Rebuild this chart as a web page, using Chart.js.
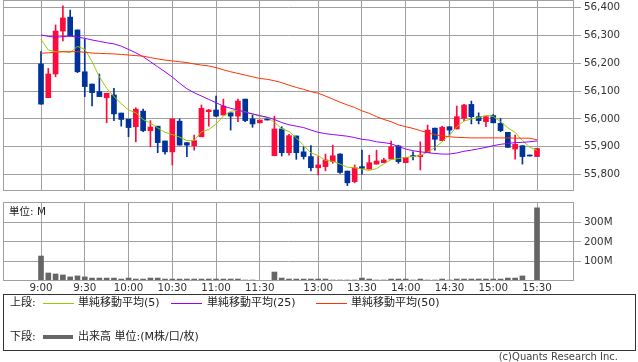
<!DOCTYPE html>
<html>
<head>
<meta charset="utf-8">
<script src="https://cdn.jsdelivr.net/npm/chart.js@4.4.1/dist/chart.umd.min.js"></script>
<style>
  body { margin: 0; background: #fff; width: 638px; height: 362px; overflow: hidden; position: relative;
         font-family: "DejaVu Sans", "Noto Sans CJK JP", sans-serif; color: #222; }
  canvas { position: absolute; left: 0; }
  #price { top: 0; }
  #volume { top: 195px; }
  .txt { position: absolute; white-space: nowrap; font-size: 11px; line-height: 14px; }
  .ln { position: absolute; height: 1px; }
  #legend { position: absolute; left: 3px; top: 294px; width: 631px; height: 55px; border: 1px solid #333; }
</style>
</head>
<body>
<canvas id="price" width="638" height="191"></canvas>
<canvas id="volume" width="638" height="100"></canvas>
<div class="txt" style="left:9px;top:204px;font-size:10.5px">単位: M</div>

<div id="legend"></div>
<div class="txt" style="left:10px;top:296px">上段:</div>
<div class="ln" style="left:43px;top:303px;width:31px;background:#99cc00"></div>
<div class="txt" style="left:78px;top:296px">単純移動平均(5)</div>
<div class="ln" style="left:171px;top:303px;width:31px;background:#9900ff"></div>
<div class="txt" style="left:207px;top:296px">単純移動平均(25)</div>
<div class="ln" style="left:316px;top:303px;width:31px;background:#ff3300"></div>
<div class="txt" style="left:351px;top:296px">単純移動平均(50)</div>
<div class="txt" style="left:10px;top:330px">下段:</div>
<div class="ln" style="left:43px;top:335px;width:30px;height:4px;background:#666"></div>
<div class="txt" style="left:78px;top:330px">出来高 単位:(M株/口/枚)</div>
<div class="txt" style="right:20px;top:350px;font-size:10px;color:#444">(c)Quants Research Inc.</div>

<script>
// 5分足 (9:00 - 15:30)
const times = [
  '9:00','9:05','9:10','9:15','9:20','9:25','9:30','9:35','9:40','9:45','9:50','9:55',
  '10:00','10:05','10:10','10:15','10:20','10:25','10:30','10:35','10:40','10:45','10:50','10:55',
  '11:00','11:05','11:10','11:15','11:20','11:25','11:30',
  '12:25',
  '12:30','12:35','12:40','12:45','12:50','12:55',
  '13:00','13:05','13:10','13:15','13:20','13:25','13:30','13:35','13:40','13:45','13:50','13:55',
  '14:00','14:05','14:10','14:15','14:20','14:25','14:30','14:35','14:40','14:45','14:50','14:55',
  '15:00','15:05','15:10','15:15','15:20','15:25','15:30'
];
const opens = [
  56197,56076,56161,56315,56365,56319,56169,56125,56098,56076,56086,56021,
  55999,55972,56028,55958,55974,55921,55882,55992,55915,55904,55936,56026,
  56032,56014,56022,56010,56071,56000,55986,
  55996,
  55868,55964,55879,55939,55882,55865,
  55825,55829,55847,55874,55813,55775,55829,55820,55838,55843,55856,55903,
  55843,55865,55865,55879,55967,55922,55972,55964,56002,56052,56008,55990,
  56012,55984,55952,55892,55904,55867,55865
];
const highs = [
  56241,56181,56337,56405,56390,56319,56285,56125,56161,56092,56110,56021,
  55999,56040,56035,55994,55974,55921,56000,56000,55915,55942,56050,56034,
  56082,56071,56022,56071,56071,56014,55996,
  55996,
  56010,55972,55945,55939,55900,55904,
  55865,55874,55906,55876,55813,55835,55888,55870,55888,55859,55921,55906,
  55862,55882,55918,55978,55967,55974,55972,56046,56052,56064,56022,56008,
  56016,56002,55952,55942,55904,55867,55894
];
const lows = [
  56053,56076,56151,56280,56297,56166,56080,56047,56080,55986,55994,55974,
  55936,55918,55954,55900,55879,55874,55835,55906,55865,55888,55936,55974,
  56008,56014,55960,55990,55990,55970,55986,
  55996,
  55868,55867,55870,55855,55856,55814,
  55799,55814,55841,55805,55761,55771,55802,55820,55838,55843,55856,55841,
  55843,55853,55817,55879,55888,55922,55942,55964,55994,55982,55982,55972,
  55986,55954,55898,55856,55838,55867,55865
];
const closes = [
  56053,56161,56315,56362,56297,56169,56116,56094,56080,56092,56018,55998,
  55969,56035,55958,55971,55915,55882,56000,55906,55906,55922,56038,56032,
  56010,56046,56010,56064,55994,55982,55996,
  55996,
  55964,55879,55940,55879,55865,55825,
  55835,55853,55868,55808,55771,55825,55823,55843,55849,55853,55900,55847,
  55862,55865,55870,55960,55927,55970,55960,56008,56050,56008,55994,56008,
  55986,55958,55898,55909,55865,55867,55894
];
// 単純移動平均
const ma5 = [
  56285,56247,56241,56241,56238,56260,56250,56205,56151,56110,56080,56055,
  56032,56022,55998,55985,55968,55952,55944,55935,55922,55923,55954,55962,
  55982,56010,56027,56032,56025,56018,56009,
  56006,
  55988,55965,55955,55932,55905,55878,
  55869,55851,55848,55838,55827,55825,55820,55815,55822,55839,55854,55858,
  55862,55865,55869,55881,55897,55918,55942,55972,55992,56000,56005,56013,
  56009,55990,55968,55952,55922,55899,55887
];
const ma25 = [
  56301,56296,56293,56295,56297,56293,56289,56283,56278,56273,56269,56261,
  56249,56237,56223,56205,56187,56169,56150,56128,56108,56094,56082,56070,
  56058,56046,56038,56032,56024,56018,56012,
  56006,
  55998,55987,55979,55974,55969,55960,
  55952,55947,55944,55941,55938,55933,55927,55924,55918,55915,55911,55901,
  55892,55886,55882,55879,55876,55874,55874,55878,55884,55888,55893,55898,
  55904,55909,55912,55915,55916,55918,55921
];
const ma50 = [
  56235,56237,56239,56241,56241,56241,56239,56236,56235,56234,56233,56231,
  56229,56227,56225,56220,56215,56211,56208,56205,56202,56197,56193,56190,
  56184,56176,56169,56163,56157,56151,56145,
  56142,
  56137,56130,56121,56113,56106,56098,
  56092,56082,56071,56060,56050,56041,56029,56020,56008,55998,55990,55979,
  55972,55966,55958,55951,55943,55939,55936,55934,55933,55932,55932,55932,
  55932,55932,55932,55931,55931,55931,55925
];
// 出来高 (M)
const volumes = [
  128,41,36,31,21,26,21,15,15,15,15,10,
  15,10,10,15,15,10,10,10,10,10,10,10,
  10,10,10,10,5,5,2,
  0,
  46,15,10,10,10,10,
  10,10,5,5,5,5,15,10,5,5,10,10,
  10,5,10,5,5,10,5,10,10,10,10,10,
  10,10,15,15,26,2,375
];
const tickTimes = ['9:00','9:30','10:00','10:30','11:00','11:30','13:00','13:30','14:00','14:30','15:00','15:30'];
const priceTicks = [55800, 55900, 56000, 56100, 56200, 56300, 56400];
const volumeTicks = [100, 200, 300];

const RED = '#ff0a3c', BLUE = '#003399', GRID = '#a0a0a0';
const tickIdx = tickTimes.map(t => times.indexOf(t));
const candleColors = closes.map((c, i) => c > opens[i] ? RED : BLUE);
const xMin = -5.21, xMax = 73.07;
const tickFont = { family: 'DejaVu Sans', size: 10.3 };

const frame = {
  id: 'frame',
  afterDraw(chart) {
    const a = chart.chartArea, ctx = chart.ctx;
    ctx.save();
    ctx.strokeStyle = GRID;
    ctx.lineWidth = 1;
    ctx.strokeRect(a.left + 0.5, a.top + 0.5, a.right - a.left - 1, a.bottom - a.top - 1);
    ctx.restore();
  }
};

function xScale(showLabels) {
  return {
    type: 'linear', min: xMin, max: xMax, offset: false,
    afterBuildTicks: s => { s.ticks = tickIdx.map(v => ({ value: v })); },
    grid: { color: GRID, drawTicks: false, offset: false },
    border: { display: false },
    ticks: {
      display: showLabels, autoSkip: false, maxRotation: 0, padding: 1,
      font: tickFont, color: '#333',
      callback: v => times[v]
    },
    afterFit: s => { s.height = showLabels ? 14 : 0; s.paddingLeft = 0; s.paddingRight = 0; }
  };
}

function line(data, color) {
  return {
    type: 'line', data: data.map((v, i) => ({ x: i, y: v })),
    borderColor: color, borderWidth: 1, pointRadius: 0, tension: 0, order: 0
  };
}

new Chart(document.getElementById('price'), {
  type: 'bar',
  data: {
    datasets: [
      line(ma50, '#ff3300'),
      line(ma25, '#9900ff'),
      line(ma5, '#99cc00'),
      {
        data: opens.map((o, i) => ({ x: i, y: [o, closes[i]] })),
        backgroundColor: candleColors, barThickness: 5, grouped: false, minBarLength: 1, order: 1
      },
      {
        data: lows.map((l, i) => ({ x: i, y: [l, highs[i]] })),
        backgroundColor: candleColors, barThickness: 1, grouped: false, minBarLength: 1, order: 2
      }
    ]
  },
  options: {
    responsive: false, animation: false,
    layout: { padding: { left: 3 } },
    plugins: { legend: { display: false }, tooltip: { enabled: false } },
    scales: {
      x: xScale(false),
      y: {
        position: 'right', min: 55741.6, max: 56426.3,
        afterBuildTicks: s => { s.ticks = priceTicks.map(v => ({ value: v })); },
        grid: { color: GRID, tickLength: 7 },
        border: { display: false },
        ticks: { font: tickFont, color: '#333', padding: 3, callback: v => v.toLocaleString('en-US') },
        afterFit: s => { s.width = 64; s.paddingTop = 0; s.paddingBottom = 0; }
      }
    }
  },
  plugins: [frame]
});

new Chart(document.getElementById('volume'), {
  type: 'bar',
  data: {
    datasets: [{
      data: volumes.map((v, i) => ({ x: i, y: v })),
      backgroundColor: '#666666', barThickness: 5
    }]
  },
  options: {
    responsive: false, animation: false,
    layout: { padding: { left: 3, top: 7 } },
    plugins: { legend: { display: false }, tooltip: { enabled: false } },
    scales: {
      x: xScale(true),
      y: {
        position: 'right', min: 0, max: 405,
        afterBuildTicks: s => { s.ticks = volumeTicks.map(v => ({ value: v })); },
        grid: { color: GRID, tickLength: 7 },
        border: { display: false },
        ticks: { font: tickFont, color: '#333', padding: 3, callback: v => v + 'M' },
        afterFit: s => { s.width = 64; s.paddingTop = 0; s.paddingBottom = 0; }
      }
    }
  },
  plugins: [frame]
});
</script>
</body>
</html>
